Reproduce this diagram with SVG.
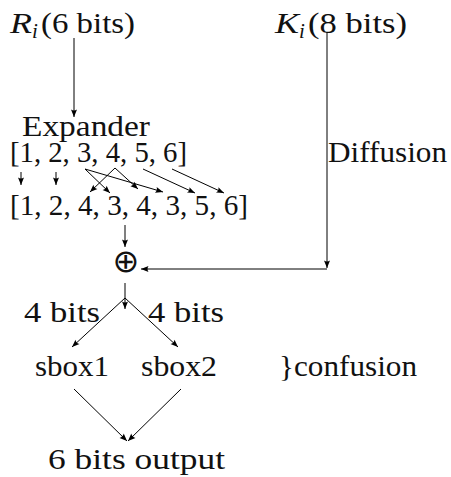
<svg xmlns="http://www.w3.org/2000/svg" width="451" height="477" viewBox="0 0 451 477" font-family="Liberation Serif, serif" font-size="30" fill="#111">
  <defs>
    <marker id="tip" markerUnits="userSpaceOnUse" markerWidth="10" markerHeight="8" viewBox="-8 -4 10 8" refX="0" refY="0" orient="auto">
      <path d="M0,0 L-7.5,-3 Q-5.5,0 -7.5,3 Z" fill="#000"/>
    </marker>
    <style>
      .edge { fill: none; stroke: #000; stroke-width: 1; marker-end: url(#tip); }
    </style>
  </defs>

  <rect width="451" height="477" fill="#fff"/>

  <!-- inputs -->
  <g id="node-ri">
    <text x="10" y="33"><tspan font-style="italic" textLength="22" lengthAdjust="spacingAndGlyphs">R</tspan><tspan font-style="italic" font-size="21" x="32" y="38">i</tspan><tspan x="41" y="33" textLength="94" lengthAdjust="spacingAndGlyphs">(6 bits)</tspan></text>
  </g>
  <g id="node-ki">
    <text x="275" y="33"><tspan font-style="italic" textLength="24" lengthAdjust="spacingAndGlyphs">K</tspan><tspan font-style="italic" font-size="21" x="299" y="38">i</tspan><tspan x="308" y="33" textLength="99" lengthAdjust="spacingAndGlyphs">(8 bits)</tspan></text>
  </g>

  <!-- expansion -->
  <g id="node-expander">
    <text x="22" y="136" textLength="128" lengthAdjust="spacingAndGlyphs">Expander</text>
    <text x="10" y="162" textLength="177" lengthAdjust="spacingAndGlyphs">[1, 2, 3, 4, 5, 6]</text>
  </g>
  <g id="node-expanded">
    <text x="10" y="215" textLength="238" lengthAdjust="spacingAndGlyphs">[1, 2, 4, 3, 4, 3, 5, 6]</text>
  </g>

  <g id="node-xor">
    <text x="126" y="272" text-anchor="middle" font-family="DejaVu Sans, sans-serif" font-size="32">⊕</text>
  </g>

  <g id="label-diffusion">
    <text x="328" y="162" textLength="119" lengthAdjust="spacingAndGlyphs">Diffusion</text>
  </g>

  <g id="label-split">
    <text x="24" y="322" textLength="76" lengthAdjust="spacingAndGlyphs">4 bits</text>
    <text x="148" y="322" textLength="76" lengthAdjust="spacingAndGlyphs">4 bits</text>
  </g>

  <g id="node-sbox1">
    <text x="35" y="376" textLength="74" lengthAdjust="spacingAndGlyphs">sbox1</text>
  </g>
  <g id="node-sbox2">
    <text x="141" y="376" textLength="76" lengthAdjust="spacingAndGlyphs">sbox2</text>
  </g>
  <g id="label-confusion">
    <text x="279" y="376" textLength="138" lengthAdjust="spacingAndGlyphs">}confusion</text>
  </g>

  <g id="node-output">
    <text x="48" y="469" textLength="177" lengthAdjust="spacingAndGlyphs">6 bits output</text>
  </g>

  <!-- connectors -->
  <g id="connectors">
    <line class="edge" x1="74" y1="38" x2="74" y2="117"/>
    <line class="edge" x1="327" y1="32" x2="327" y2="268"/>
    <line class="edge" x1="327" y1="269" x2="141" y2="269"/>

    <!-- expander permutation -->
    <line class="edge" x1="21" y1="172" x2="21" y2="185"/>
    <line class="edge" x1="56" y1="172" x2="56" y2="185"/>
    <line class="edge" x1="85" y1="169" x2="110" y2="193"/>
    <line class="edge" x1="85" y1="169" x2="163" y2="192"/>
    <line class="edge" x1="115" y1="168" x2="90" y2="192"/>
    <line class="edge" x1="115" y1="168" x2="138" y2="189"/>
    <line class="edge" x1="143" y1="169" x2="195" y2="193"/>
    <line class="edge" x1="172" y1="169" x2="224" y2="193"/>

    <line class="edge" x1="125" y1="225" x2="125" y2="247"/>

    <!-- split after xor -->
    <line class="edge" x1="125" y1="283" x2="125" y2="309"/>
    <line class="edge" x1="125" y1="298" x2="72" y2="347"/>
    <line class="edge" x1="125" y1="298" x2="178" y2="347"/>

    <!-- sboxes to output -->
    <line class="edge" x1="74" y1="389" x2="127" y2="441"/>
    <line class="edge" x1="181" y1="389" x2="128" y2="441"/>
  </g>
</svg>
